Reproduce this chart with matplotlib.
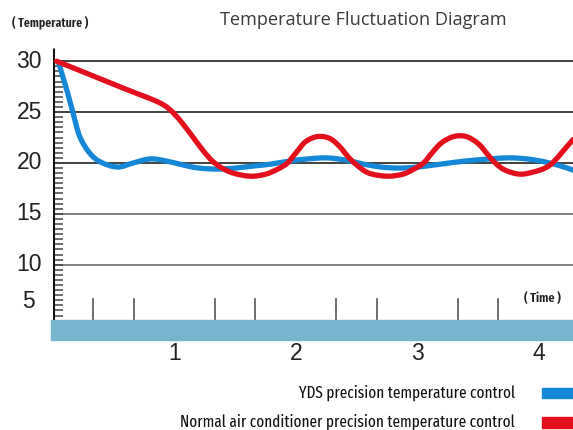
import matplotlib
matplotlib.use("Agg")
import matplotlib.pyplot as plt
from matplotlib.patches import Rectangle, PathPatch
from matplotlib.path import Path
from matplotlib import font_manager as fm

# ---- data ----
yds_x = [0.05, 0.12, 0.165, 0.22, 0.30, 0.39, 0.53, 0.66, 0.80, 0.93, 1.07,
         1.20, 1.35, 1.50, 1.65, 1.80, 1.95, 2.10, 2.25, 2.40, 2.55, 2.70,
         2.85, 3.00, 3.20, 3.40, 3.60, 3.75, 3.90, 4.05, 4.18, 4.28]
yds_y = [29.7, 26.9, 24.9, 22.6, 21.0, 20.1, 19.6, 20.0, 20.4, 20.2, 19.8,
         19.5, 19.4, 19.5, 19.7, 19.9, 20.2, 20.4, 20.5, 20.3, 19.9, 19.6,
         19.5, 19.6, 19.9, 20.2, 20.4, 20.5, 20.4, 20.1, 19.7, 19.3]

normal_x = [0.03, 0.30, 0.60, 0.88, 1.00, 1.13, 1.23, 1.33, 1.46, 1.62,
            1.75, 1.85, 1.93, 2.00, 2.08, 2.18, 2.28, 2.36, 2.43, 2.50, 2.60,
            2.75, 2.88, 2.97, 3.05, 3.12, 3.20, 3.30, 3.40, 3.50, 3.58, 3.64,
            3.72, 3.84, 3.95, 4.05, 4.12, 4.20, 4.28]
normal_y = [30.0, 28.7, 27.25, 25.9, 24.8, 22.9, 21.3, 20.0, 19.1, 18.7,
            18.9, 19.4, 20.0, 21.0, 22.1, 22.6, 22.4, 21.6, 20.6, 19.8, 19.0,
            18.7, 18.9, 19.4, 20.0, 21.0, 22.0, 22.6, 22.6, 21.9, 20.8, 20.0,
            19.3, 18.9, 19.1, 19.5, 20.1, 21.2, 22.3]

y_labels = [30, 25, 20, 15, 10]
x_labels = [1, 2, 3, 4]
time_ticks = [1/3, 2/3, 4/3, 5/3, 7/3, 8/3, 10/3, 11/3]
legend_labels = ["YDS precision temperature control",
                 "Normal air conditioner precision temperature control"]

BLUE = "#1488d6"
RED = "#e30f1c"
BAR = "#78b3cf"

W, H = 573, 430
fig = plt.figure(figsize=(W / 100, H / 100), dpi=100)
renderer = fig.canvas.get_renderer()

def fx(px):
    return px / W

def fy(py):
    return 1 - py / H

def find_font(weights):
    for kw in ("extracondensed", "condensed", "narrow"):
        for w in weights:
            for f in fm.fontManager.ttflist:
                key = (f.fname.split("/")[-1] + f.name).lower().replace("-", "").replace(" ", "")
                if "ultra" in key or "semicondensed" in key:
                    continue
                if kw in key and f.weight == w and f.style == "normal":
                    return fm.FontProperties(fname=f.fname)
    return fm.FontProperties(family=["Liberation Sans", "DejaVu Sans"])

cond_prop = find_font([400, 500])
cond_bold = find_font([600, 700, 500])

def fit_text(x, y, s, target_w, ha, prop, color="#111111"):
    t = fig.text(x, y, s, ha=ha, va="center", color=color, fontproperties=prop.copy())
    t.set_fontsize(12)
    w = t.get_window_extent(renderer).width
    t.set_fontsize(12 * target_w / w)
    return t

# axes: left at x=53, right at 573, top y=48, bottom y=340
ax = fig.add_axes([fx(53), fy(340), fx(573) - fx(53), fy(48) - fy(340)])
ax.set_xlim(0, 4.28)
ax.set_ylim(2.6, 31.3)
ax.axis("off")

# gridlines
for v in y_labels:
    col = "#333333" if v >= 20 else "#777777"
    ax.axhline(v, color=col, lw=1.3, zorder=1)

# minor ticks on y axis
for i in range(10, 61):
    v = i * 0.5
    ax.plot([0, 0.08], [v, v], color="#444444", lw=1.1, zorder=2, solid_capstyle="butt")

# y axis line
ax.plot([0, 0], [4.6, 31.3], color="#111111", lw=2.2, zorder=3, solid_capstyle="butt")

# time ticks
for t in time_ticks:
    ax.plot([t, t], [4.6, 6.6], color="#555555", lw=1.2, zorder=2)

# bottom bar
ax.add_patch(Rectangle((-0.02, 2.6), 4.4, 2.0, color=BAR, zorder=4, clip_on=False))

# smooth curves through the read points (Catmull-Rom as cubic Bezier path)
def smooth_path(xs, ys):
    pts = list(zip(xs, ys))
    n = len(pts)
    verts = [pts[0]]
    codes = [Path.MOVETO]
    for i in range(n - 1):
        p0 = pts[i - 1] if i > 0 else pts[i]
        p1 = pts[i]
        p2 = pts[i + 1]
        p3 = pts[i + 2] if i + 2 < n else pts[i + 1]
        c1 = (p1[0] + (p2[0] - p0[0]) / 6, p1[1] + (p2[1] - p0[1]) / 6)
        c2 = (p2[0] - (p3[0] - p1[0]) / 6, p2[1] - (p3[1] - p1[1]) / 6)
        verts += [c1, c2, p2]
        codes += [Path.CURVE4] * 3
    return Path(verts, codes)

for xs, ys, col, z in [(yds_x, yds_y, BLUE, 5), (normal_x, normal_y, RED, 6)]:
    ax.add_patch(PathPatch(smooth_path(xs, ys), facecolor="none", edgecolor=col,
                           lw=3.8, zorder=z, capstyle="round", joinstyle="round"))

# y labels
num_font = ["Liberation Sans", "DejaVu Sans"]
for v in y_labels:
    ax.text(-0.09, v, str(v), ha="right", va="center", fontsize=16.5,
            family=num_font, color="#222222", clip_on=False)
ax.text(-0.15, 6.4, "5", ha="right", va="center", fontsize=16.5,
        family=num_font, color="#222222", clip_on=False)

# x labels
for v in x_labels:
    fig.text(fx(53 + v * 121.5), fy(354), str(v), ha="center", va="center",
             fontsize=16.5, family=num_font, color="#222222")

fit_text(fx(12), fy(23), "( Temperature )", 76, "left", cond_bold, color="#222222")
fit_text(fx(561), fy(298), "( Time )", 37, "right", cond_bold, color="#222222")

title_prop = fm.FontProperties(family=["Open Sans", "DejaVu Sans"], weight="normal")
fit_text(fx(220), fy(20), "Temperature Fluctuation Diagram", 286, "left",
         title_prop, color="#3a3a3a")

# legend
fit_text(fx(515), fy(393), legend_labels[0], 215, "right", cond_prop)
fit_text(fx(515), fy(422), legend_labels[1], 333, "right", cond_prop)
fig.patches.append(Rectangle((fx(542), fy(398)), fx(31), 10 / H, color=BLUE,
                             transform=fig.transFigure, figure=fig))
fig.patches.append(Rectangle((fx(542), fy(428)), fx(31), 11 / H, color=RED,
                             transform=fig.transFigure, figure=fig))

fig.savefig("out.png", dpi=100)
